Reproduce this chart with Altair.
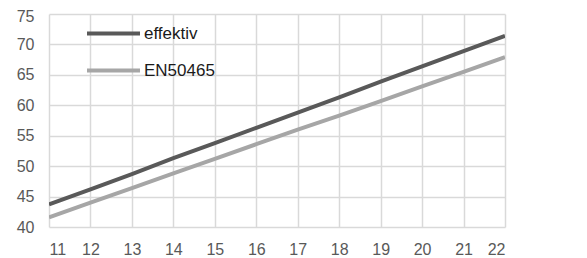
import altair as alt
import pandas as pd

x_vals = [11, 12, 13, 14, 15, 16, 17, 18, 19, 20, 21, 22]
effektiv = [43.7, 46.2, 48.7, 51.3, 53.8, 56.3, 58.8, 61.3, 63.9, 66.4, 68.9, 71.4]
en50465 = [41.6, 44.0, 46.4, 48.8, 51.2, 53.6, 56.0, 58.3, 60.7, 63.1, 65.5, 67.9]
series_names = ["effektiv", "EN50465"]
series_colors = ["#595959", "#a6a6a6"]
y_ticks = [40, 45, 50, 55, 60, 65, 70, 75]

rows = []
for name, vals in zip(series_names, [effektiv, en50465]):
    for x, v in zip(x_vals, vals):
        rows.append({"x": x, "y": v, "series": name})
df = pd.DataFrame(rows)

chart = alt.Chart(df).mark_line(strokeWidth=4, clip=True).encode(
    x=alt.X("x:Q", scale=alt.Scale(domain=[11, 22], nice=False, zero=False),
            axis=alt.Axis(values=x_vals, title=None, grid=True, ticks=False,
                          domain=False, labelPadding=14, labelFontSize=16,
                          labelColor="#595959", labelFont="Liberation Sans")),
    y=alt.Y("y:Q", scale=alt.Scale(domain=[40, 75], nice=False, zero=False),
            axis=alt.Axis(values=y_ticks, title=None, grid=True,
                          ticks=False, domain=False, labelPadding=15, labelFontSize=16,
                          labelOffset={"condition": {"test": "datum.value == 75", "value": 2},
                                       "value": 0},
                          labelColor="#595959", labelFont="Liberation Sans")),
    color=alt.Color("series:N", scale=alt.Scale(domain=series_names, range=series_colors),
                    sort=series_names,
                    legend=alt.Legend(title=None, orient="none", legendX=36, legendY=-9,
                                      symbolType="stroke", symbolStrokeWidth=4,
                                      symbolSize=2809, labelFontSize=17,
                                      labelFont="Liberation Sans", labelColor="#1a1a1a",
                                      rowPadding=-13, labelOffset=2)),
).properties(
    width=456, height=213, padding={"left": 41, "top": 6, "right": 5, "bottom": 31},
    autosize="none"
).configure_axis(
    gridColor="#d9d9d9", gridWidth=1.5
).configure_view(stroke=None)

chart.save("out.html", embed_options={"renderer": "svg", "actions": False})
